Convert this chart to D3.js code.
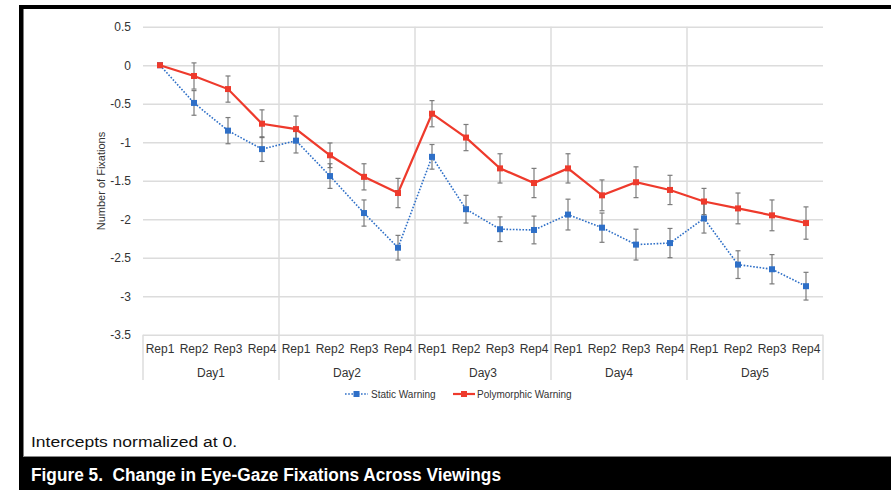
<!DOCTYPE html>
<html>
<head>
<meta charset="utf-8">
<script src="https://cdn.jsdelivr.net/npm/d3@7"></script>
<style>
  html, body { margin: 0; padding: 0; background: #fff; }
  svg { display: block; }
  text { font-family: "Liberation Sans", Arial, Helvetica, sans-serif; }
</style>
</head>
<body>
<svg id="chart" width="891" height="490"></svg>
<script>
// ---- data ----
const days = ["Day1", "Day2", "Day3", "Day4", "Day5"];
const reps = ["Rep1", "Rep2", "Rep3", "Rep4"];
const yTicks = [0.5, 0, -0.5, -1, -1.5, -2, -2.5, -3, -3.5];
const seriesNames = ["Static Warning", "Polymorphic Warning"];
const staticValues = [0, -0.49, -0.85, -1.09, -0.98, -1.44, -1.92, -2.37, -1.19, -1.87, -2.13, -2.14, -1.94, -2.11, -2.33, -2.31, -1.99, -2.59, -2.65, -2.87];
const staticErrors = [0, 0.16, 0.17, 0.16, 0.16, 0.16, 0.17, 0.16, 0.16, 0.18, 0.16, 0.18, 0.2, 0.19, 0.2, 0.19, 0.19, 0.18, 0.19, 0.18];
const polyValues = [0, -0.14, -0.31, -0.76, -0.83, -1.17, -1.45, -1.66, -0.63, -0.94, -1.34, -1.53, -1.34, -1.69, -1.52, -1.62, -1.77, -1.86, -1.95, -2.05];
const polyErrors = [0, 0.17, 0.17, 0.18, 0.17, 0.16, 0.17, 0.19, 0.17, 0.17, 0.19, 0.19, 0.19, 0.2, 0.2, 0.19, 0.17, 0.2, 0.2, 0.21];
const yTitle = "Number of Fixations";
const noteText = "Intercepts normalized at 0.";
const captionText = "Figure 5.  Change in Eye-Gaze Fixations Across Viewings";

// ---- layout ----
const svg = d3.select("#chart");
const L = 143, R = 823, T = 26.7, B = 334.7;
const catKeys = [];
days.forEach(d => reps.forEach(r => catKeys.push(d + "|" + r)));

const x = d3.scaleBand().domain(catKeys).range([L, R]);
const xDay = d3.scaleBand().domain(days).range([L, R]);
const y = d3.scaleLinear().domain([-3.5, 0.5]).range([B, T]);
const cx = i => x(catKeys[i]) + x.bandwidth() / 2;

const gridColor = "#dcdcdc";

// frame
svg.append("rect").attr("x", 19).attr("y", 5).attr("width", 872).attr("height", 4).attr("fill", "#000");
svg.append("rect").attr("x", 19).attr("y", 5).attr("width", 4.5).attr("height", 485).attr("fill", "#000");
svg.append("rect").attr("x", 19).attr("y", 457).attr("width", 872).attr("height", 33).attr("fill", "#000");
svg.append("line").attr("x1", 23).attr("x2", 891).attr("y1", 456.5).attr("y2", 456.5).attr("stroke", "#888").attr("stroke-width", 1);

// horizontal gridlines
const yAxis = d3.axisLeft(y).tickValues(yTicks).tickSize(-(R - L)).tickFormat(d3.format("~g"));
const gy = svg.append("g").attr("transform", `translate(${L},0)`).call(yAxis);
gy.select(".domain").remove();
gy.selectAll(".tick line").attr("stroke", gridColor).attr("stroke-width", 1.5);
gy.selectAll(".tick text")
  .attr("x", -12)
  .attr("font-size", 12)
  .attr("fill", "#333")
  .text(d => d === 0 ? "0" : d3.format("~g")(d).replace("−", "-"));

// vertical day dividers
const dayEdges = days.map(d => xDay(d)).concat([R]);
svg.append("g").selectAll("line").data(dayEdges).join("line")
  .attr("x1", d => d).attr("x2", d => d)
  .attr("y1", (d, i) => (i === 0 || i === dayEdges.length - 1) ? B : T)
  .attr("y2", 380)
  .attr("stroke", gridColor).attr("stroke-width", 1.5);

// category labels
const xAxis = d3.axisBottom(x).tickSize(0).tickFormat(k => k.split("|")[1]);
const gx = svg.append("g").attr("transform", `translate(0,${B})`).call(xAxis);
gx.select(".domain").remove();
gx.selectAll(".tick text").attr("font-size", 12).attr("fill", "#333").attr("y", 0).attr("dy", "1.55em");

const dayAxis = d3.axisBottom(xDay).tickSize(0);
const gd = svg.append("g").attr("transform", `translate(0,${B})`).call(dayAxis);
gd.select(".domain").remove();
gd.selectAll(".tick text").attr("font-size", 12).attr("fill", "#333").attr("y", 0).attr("dy", "3.55em");

// y title
svg.append("text")
  .attr("transform", "translate(105,181) rotate(-90)")
  .attr("text-anchor", "middle")
  .attr("font-size", 11)
  .attr("fill", "#333")
  .text(yTitle);

// series
const blue = "#2e6fc7", red = "#ee3a2c";
const series = [
  { name: seriesNames[0], values: staticValues, errors: staticErrors, color: blue, dash: "1.6,1.6", width: 1.6 },
  { name: seriesNames[1], values: polyValues, errors: polyErrors, color: red, dash: null, width: 2.2 }
];

const line = d3.line().x((d, i) => cx(i)).y(d => y(d));

series.forEach(s => {
  svg.append("path").datum(s.values)
    .attr("d", line)
    .attr("fill", "none")
    .attr("stroke", s.color)
    .attr("stroke-width", s.width)
    .attr("stroke-dasharray", s.dash);
});

// error bars
series.forEach(s => {
  const g = svg.append("g").attr("stroke", "#6e6e6e").attr("stroke-width", 1.2).attr("opacity", 0.9);
  s.values.forEach((v, i) => {
    const e = s.errors[i];
    if (!e) return;
    const xx = cx(i);
    g.append("line").attr("x1", xx).attr("x2", xx).attr("y1", y(v + e)).attr("y2", y(v - e));
    g.append("line").attr("x1", xx - 2.5).attr("x2", xx + 2.5).attr("y1", y(v + e)).attr("y2", y(v + e));
    g.append("line").attr("x1", xx - 2.5).attr("x2", xx + 2.5).attr("y1", y(v - e)).attr("y2", y(v - e));
  });
});

// markers
series.forEach(s => {
  svg.append("g").selectAll("rect").data(s.values).join("rect")
    .attr("x", (d, i) => cx(i) - 3)
    .attr("y", d => y(d) - 3)
    .attr("width", 6).attr("height", 6)
    .attr("fill", s.color);
});

// legend
const legendY = 394;
const legendItems = [
  { s: series[0], x0: 345, x1: 368, tx: 371 },
  { s: series[1], x0: 453, x1: 475, tx: 477 }
];
legendItems.forEach(it => {
  svg.append("line").attr("x1", it.x0).attr("x2", it.x1).attr("y1", legendY).attr("y2", legendY)
    .attr("stroke", it.s.color).attr("stroke-width", it.s.width).attr("stroke-dasharray", it.s.dash);
  svg.append("rect").attr("x", (it.x0 + it.x1) / 2 - 3).attr("y", legendY - 3).attr("width", 6).attr("height", 6).attr("fill", it.s.color);
  svg.append("text").attr("x", it.tx).attr("y", legendY).attr("dy", "0.35em")
    .attr("font-size", 10).attr("fill", "#333").text(it.s.name);
});

// note and caption
svg.append("text").attr("x", 31).attr("y", 446.5)
  .attr("font-family", "'Liberation Sans Narrow', 'Arial Narrow', 'Liberation Sans', Arial, sans-serif")
  .attr("font-size", 15.5).attr("fill", "#111")
  .attr("textLength", 206).attr("lengthAdjust", "spacingAndGlyphs")
  .text(noteText);
svg.append("text").attr("x", 31).attr("y", 480.5)
  .attr("font-family", "'Liberation Sans Narrow', 'Arial Narrow', 'Liberation Sans', Arial, sans-serif")
  .attr("font-size", 17.5).attr("font-weight", "bold").attr("fill", "#fff")
  .attr("textLength", 470).attr("lengthAdjust", "spacingAndGlyphs")
  .style("white-space", "pre")
  .text(captionText);
</script>
</body>
</html>
